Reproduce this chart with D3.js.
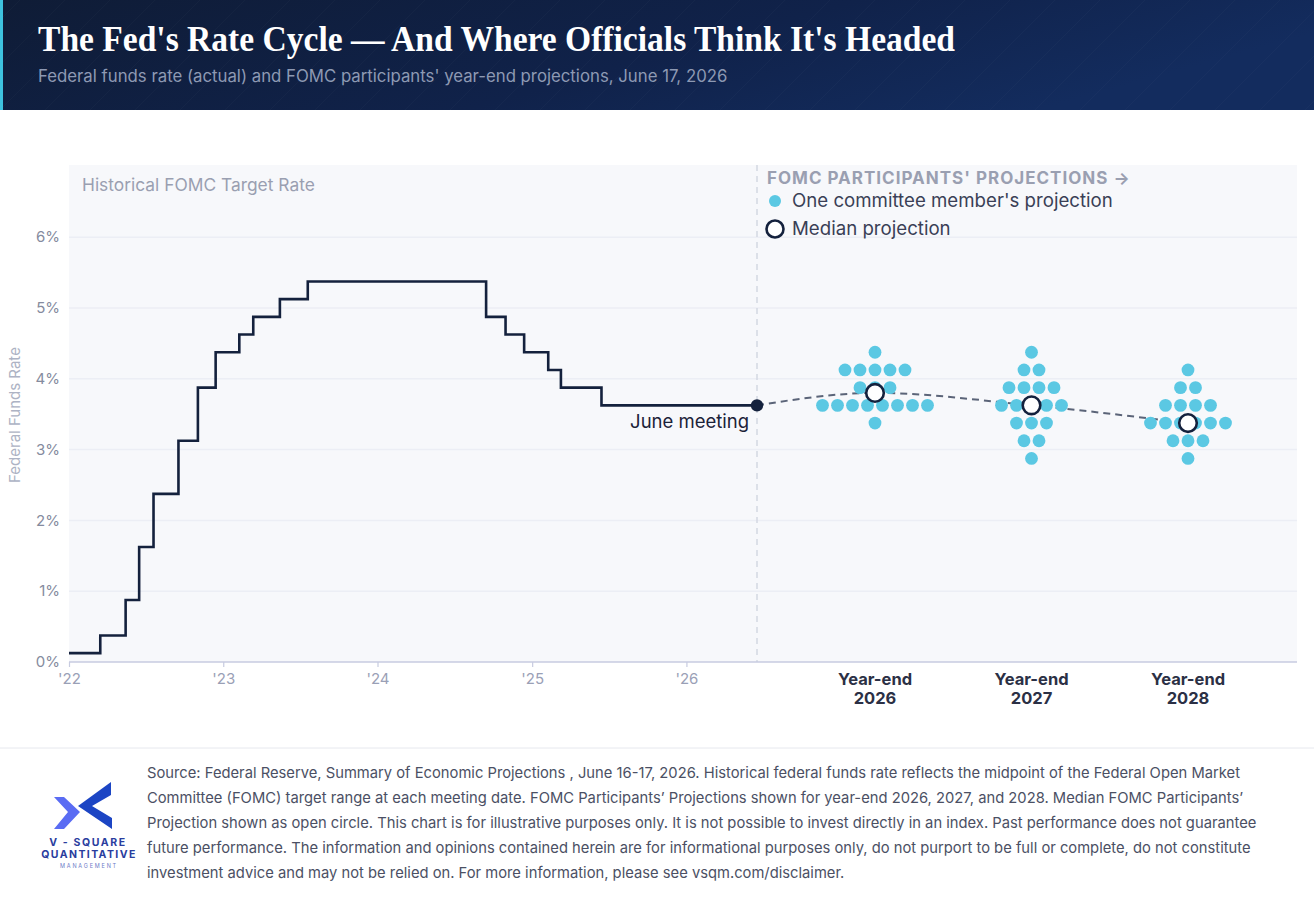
<!DOCTYPE html>
<html>
<head>
<meta charset="utf-8">
<script src="https://cdn.jsdelivr.net/npm/d3@7"></script>
<style>
  body { margin: 0; background: #fff; }
  svg { display: block; font-family: Inter, "Noto Sans", sans-serif; }
</style>
</head>
<body>
<svg id="chart" width="1314" height="899"></svg>
<script>
// historical target rate (midpoint of range) at each meeting
var rateDates = ['2022-01-01', '2022-03-16', '2022-05-15', '2022-06-16', '2022-07-20', '2022-09-17',
    '2022-11-02', '2022-12-14', '2023-02-08', '2023-03-13', '2023-05-15', '2023-07-20',
    '2024-09-14', '2024-10-30', '2024-12-13', '2025-02-08', '2025-03-10', '2025-06-14'];
var rateValues = [0.125, 0.375, 0.875, 1.625, 2.375, 3.125,
    3.875, 4.375, 4.625, 4.875, 5.125, 5.375,
    4.875, 4.625, 4.375, 4.125, 3.875, 3.625];
var meetingDate = '2026-06-17';

// FOMC dot plot
var projYears = ['2026', '2027', '2028'];
var dots2026 = [4.375, 4.125, 4.125, 4.125, 4.125, 4.125, 3.875, 3.875, 3.875,
    3.625, 3.625, 3.625, 3.625, 3.625, 3.625, 3.625, 3.625, 3.375];
var dots2027 = [4.375, 4.125, 4.125, 3.875, 3.875, 3.875, 3.875, 3.625, 3.625, 3.625, 3.625, 3.625,
    3.375, 3.375, 3.375, 3.125, 3.125, 2.875];
var dots2028 = [4.125, 3.875, 3.875, 3.625, 3.625, 3.625, 3.625, 3.375, 3.375, 3.375, 3.375, 3.375, 3.375,
    3.125, 3.125, 3.125, 2.875];
var medians = [3.8, 3.625, 3.375];

var yTicks = [0, 1, 2, 3, 4, 5, 6];
var xTickYears = ['2022', '2023', '2024', '2025', '2026'];

var footerLines = [
    'Source: Federal Reserve, Summary of Economic Projections , June 16-17, 2026. Historical federal funds rate reflects the midpoint of the Federal Open Market',
    'Committee (FOMC) target range at each meeting date. FOMC Participants\u2019 Projections shown for year-end 2026, 2027, and 2028. Median FOMC Participants\u2019',
    'Projection shown as open circle. This chart is for illustrative purposes only. It is not possible to invest directly in an index. Past performance does not guarantee',
    'future performance. The information and opinions contained herein are for informational purposes only, do not purport to be full or complete, do not constitute',
    'investment advice and may not be relied on. For more information, please see vsqm.com/disclaimer.'
];

var svg = d3.select('#chart');
var parse = d3.timeParse('%Y-%m-%d');

var plot = {l: 69, r: 1297, t: 165, b: 662};
var splitX = 757;

// fit text to a width by scaling font size
function fit(sel, w) {
    var len = sel.node().getComputedTextLength();
    var fs = parseFloat(sel.attr('font-size'));
    sel.attr('font-size', fs * w / len);
    return fs * w / len;
}

// ---- header ----
var defs = svg.append('defs');
var grad = defs.append('linearGradient').attr('id', 'hdr').attr('x1', 0).attr('x2', 1).attr('y1', 0).attr('y2', 0.3);
grad.append('stop').attr('offset', 0).attr('stop-color', '#0f1c36');
grad.append('stop').attr('offset', 0.6).attr('stop-color', '#10224a');
grad.append('stop').attr('offset', 1).attr('stop-color', '#132c5e');

svg.append('rect').attr('width', 1314).attr('height', 110).attr('fill', 'url(#hdr)');
for (var k = -10; k < 40; k++) {
    svg.append('line')
        .attr('x1', k * 45).attr('y1', 110).attr('x2', k * 45 + 110).attr('y2', 0)
        .attr('stroke', '#ffffff').attr('stroke-opacity', 0.025).attr('stroke-width', 1);
}
svg.append('rect').attr('width', 3).attr('height', 110).attr('fill', '#3ec3df');

var title = svg.append('text')
    .attr('x', 38).attr('y', 51)
    .attr('font-family', '"Liberation Serif", "DejaVu Serif", serif')
    .attr('font-weight', 'bold')
    .attr('font-size', 36)
    .attr('fill', '#ffffff')
    .text('The Fed\'s Rate Cycle \u2014 And Where Officials Think It\'s Headed');
title.attr('textLength', 917).attr('lengthAdjust', 'spacingAndGlyphs');

var sub = svg.append('text')
    .attr('x', 38).attr('y', 82)
    .attr('font-size', 17)
    .attr('fill', '#8d99b3')
    .text('Federal funds rate (actual) and FOMC participants\' year-end projections, June 17, 2026');
fit(sub, 690);

// ---- scales ----
var x = d3.scaleTime()
    .domain([parse('2022-01-01'), parse(meetingDate)])
    .range([plot.l, splitX]);
var y = d3.scaleLinear().domain([0, 6]).range([plot.b, plot.b - 6 * 70.8]);
var xp = d3.scalePoint().domain(projYears).range([875, 1188]);

// panel
svg.append('rect')
    .attr('x', plot.l).attr('y', plot.t)
    .attr('width', plot.r - plot.l).attr('height', plot.b - plot.t)
    .attr('fill', '#f7f8fb');

// gridlines
svg.append('g').selectAll('line')
    .data(yTicks.slice(1))
    .enter().append('line')
    .attr('x1', plot.l).attr('x2', plot.r)
    .attr('y1', function (d) { return y(d); })
    .attr('y2', function (d) { return y(d); })
    .attr('stroke', '#eceef5').attr('stroke-width', 1.5);

// y tick labels
svg.append('g').selectAll('text')
    .data(yTicks)
    .enter().append('text')
    .attr('x', 60)
    .attr('y', function (d) { return y(d); })
    .attr('dy', '0.35em')
    .attr('text-anchor', 'end')
    .attr('font-size', 15)
    .attr('fill', '#858b9e')
    .text(function (d) { return d + '%'; });

svg.append('text')
    .attr('transform', 'translate(' + [20, 415] + ') rotate(-90)')
    .attr('text-anchor', 'middle')
    .attr('font-size', 15)
    .attr('fill', '#adb3c4')
    .text('Federal Funds Rate');

// divider between history and projections
svg.append('line')
    .attr('x1', splitX).attr('x2', splitX)
    .attr('y1', plot.t).attr('y2', plot.b)
    .attr('stroke', '#d3d7e2').attr('stroke-width', 1.5)
    .attr('stroke-dasharray', '6,5');

// x axis
svg.append('line')
    .attr('x1', plot.l).attr('x2', plot.r)
    .attr('y1', plot.b).attr('y2', plot.b)
    .attr('stroke', '#c7cbe0').attr('stroke-width', 1.5);

var xAxis = svg.append('g')
    .attr('transform', 'translate(0,' + plot.b + ')')
    .call(d3.axisBottom(x)
        .tickValues(xTickYears.map(function (d) { return parse(d + '-01-01'); }))
        .tickSize(5)
        .tickFormat(function (d) { return '\'' + d3.timeFormat('%y')(d); }));
xAxis.select('.domain').remove();
xAxis.selectAll('.tick line').attr('stroke', '#c7cbe0').attr('stroke-width', 1.2);
xAxis.selectAll('.tick text')
    .attr('font-size', 15).attr('font-family', 'Inter, sans-serif')
    .attr('fill', '#9aa0b6').attr('dy', '0.95em');

// year-end labels
projYears.forEach(function (yr) {
    var t = svg.append('text')
        .attr('x', xp(yr)).attr('y', 685)
        .attr('text-anchor', 'middle')
        .attr('font-size', 16.5).attr('font-weight', 'bold')
        .attr('fill', '#2b3045');
    t.append('tspan').attr('x', xp(yr)).attr('dy', 0).text('Year-end');
    t.append('tspan').attr('x', xp(yr)).attr('dy', 19).text(yr);
});

// historical step line
var hist = rateDates.map(function (d, i) { return {date: parse(d), v: rateValues[i]}; });
hist.push({date: parse(meetingDate), v: rateValues[rateValues.length - 1]});

svg.append('path')
    .datum(hist)
    .attr('fill', 'none')
    .attr('stroke', '#14213d')
    .attr('stroke-width', 2.6)
    .attr('d', d3.line()
        .curve(d3.curveStepAfter)
        .x(function (d) { return x(d.date); })
        .y(function (d) { return y(d.v); }));

// dashed median path
var medPts = [{px: x(parse(meetingDate)), v: rateValues[rateValues.length - 1]}]
    .concat(projYears.map(function (yr, i) { return {px: xp(yr), v: medians[i]}; }));
svg.append('path')
    .datum(medPts)
    .attr('fill', 'none')
    .attr('stroke', '#5b6478')
    .attr('stroke-width', 2)
    .attr('stroke-dasharray', '7,5')
    .attr('d', d3.line()
        .curve(d3.curveMonotoneX)
        .x(function (d) { return d.px; })
        .y(function (d) { return y(d.v); }));

// dots
var dotSets = [dots2026, dots2027, dots2028];
var dotStep = 15;
var dotData = [];
projYears.forEach(function (yr, i) {
    var rows = d3.group(dotSets[i], function (d) { return d; });
    rows.forEach(function (vals, v) {
        vals.forEach(function (_, j) {
            dotData.push({yr: yr, v: v, off: (j - (vals.length - 1) / 2) * dotStep});
        });
    });
});

svg.append('g').selectAll('circle')
    .data(dotData)
    .enter().append('circle')
    .attr('cx', function (d) { return xp(d.yr) + d.off; })
    .attr('cy', function (d) { return y(d.v); })
    .attr('r', 6.4)
    .attr('fill', '#5bc8e3');

// medians
svg.append('g').selectAll('circle')
    .data(projYears)
    .enter().append('circle')
    .attr('cx', function (d) { return xp(d); })
    .attr('cy', function (d, i) { return y(medians[i]); })
    .attr('r', 8.8)
    .attr('fill', '#ffffff')
    .attr('stroke', '#14213d')
    .attr('stroke-width', 2.6);

// june meeting point
svg.append('circle')
    .attr('cx', x(parse(meetingDate)))
    .attr('cy', y(rateValues[rateValues.length - 1]))
    .attr('r', 6.2)
    .attr('fill', '#14213d');

var jm = svg.append('text')
    .attr('x', 749).attr('y', 428)
    .attr('text-anchor', 'end')
    .attr('font-size', 17)
    .attr('fill', '#1b2238')
    .text('June meeting');
fit(jm, 119);

// panel labels
var hl = svg.append('text')
    .attr('x', 82).attr('y', 191)
    .attr('font-size', 16)
    .attr('fill', '#9a9fb1')
    .text('Historical FOMC Target Rate');
fit(hl, 233);

var lg = svg.append('text')
    .attr('x', 767).attr('y', 184)
    .attr('font-size', 16).attr('font-weight', 'bold')
    .attr('letter-spacing', 1)
    .attr('fill', '#9a9fb1')
    .text('FOMC PARTICIPANTS\' PROJECTIONS \u2192');
fit(lg, 366);

svg.append('circle').attr('cx', 775).attr('cy', 201).attr('r', 6).attr('fill', '#5bc8e3');
var l1 = svg.append('text')
    .attr('x', 792).attr('y', 207)
    .attr('font-size', 17)
    .attr('fill', '#3a3f56')
    .text('One committee member\'s projection');
fit(l1, 321);

svg.append('circle').attr('cx', 775).attr('cy', 229).attr('r', 8.5)
    .attr('fill', '#ffffff').attr('stroke', '#14213d').attr('stroke-width', 2.6);
var l2 = svg.append('text')
    .attr('x', 792).attr('y', 235)
    .attr('font-size', 17)
    .attr('fill', '#3a3f56')
    .text('Median projection');
l2.attr('font-size', l1.attr('font-size'));

// ---- footer ----
svg.append('line')
    .attr('x1', 0).attr('x2', 1314)
    .attr('y1', 748).attr('y2', 748)
    .attr('stroke', '#e6e8ee').attr('stroke-width', 1);

var foot = svg.append('g');
var fl = foot.selectAll('text')
    .data(footerLines)
    .enter().append('text')
    .attr('x', 147)
    .attr('y', function (d, i) { return 778 + i * 25; })
    .attr('font-size', 14.5)
    .attr('fill', '#4b5064')
    .text(function (d) { return d; });
var fs = fit(d3.select(fl.nodes()[2]), 1110);
fl.attr('font-size', fs);

// logo
var logo = svg.append('g');
logo.append('polygon')
    .attr('points', [[54, 797], [64, 797], [80, 812], [64, 829], [54, 829], [68, 812]].join(' '))
    .attr('fill', '#5a6cf3');
logo.append('polygon')
    .attr('points', [[111, 782], [111, 795], [92, 806], [112, 818], [112, 829], [78, 806]].join(' '))
    .attr('fill', '#1c45c4');
logo.append('text')
    .attr('x', 88).attr('y', 846).attr('text-anchor', 'middle')
    .attr('font-size', 10.5).attr('font-weight', 'bold').attr('letter-spacing', 1.6)
    .attr('fill', '#2a3d9e').text('V - SQUARE');
logo.append('text')
    .attr('x', 89).attr('y', 858).attr('text-anchor', 'middle')
    .attr('font-size', 10.5).attr('font-weight', 'bold').attr('letter-spacing', 1.4)
    .attr('fill', '#2a3d9e').text('QUANTITATIVE');
logo.append('text')
    .attr('x', 89).attr('y', 868).attr('text-anchor', 'middle')
    .attr('font-size', 5.5).attr('letter-spacing', 1.8)
    .attr('fill', '#6d7bc8').text('MANAGEMENT');
</script>
</body>
</html>
